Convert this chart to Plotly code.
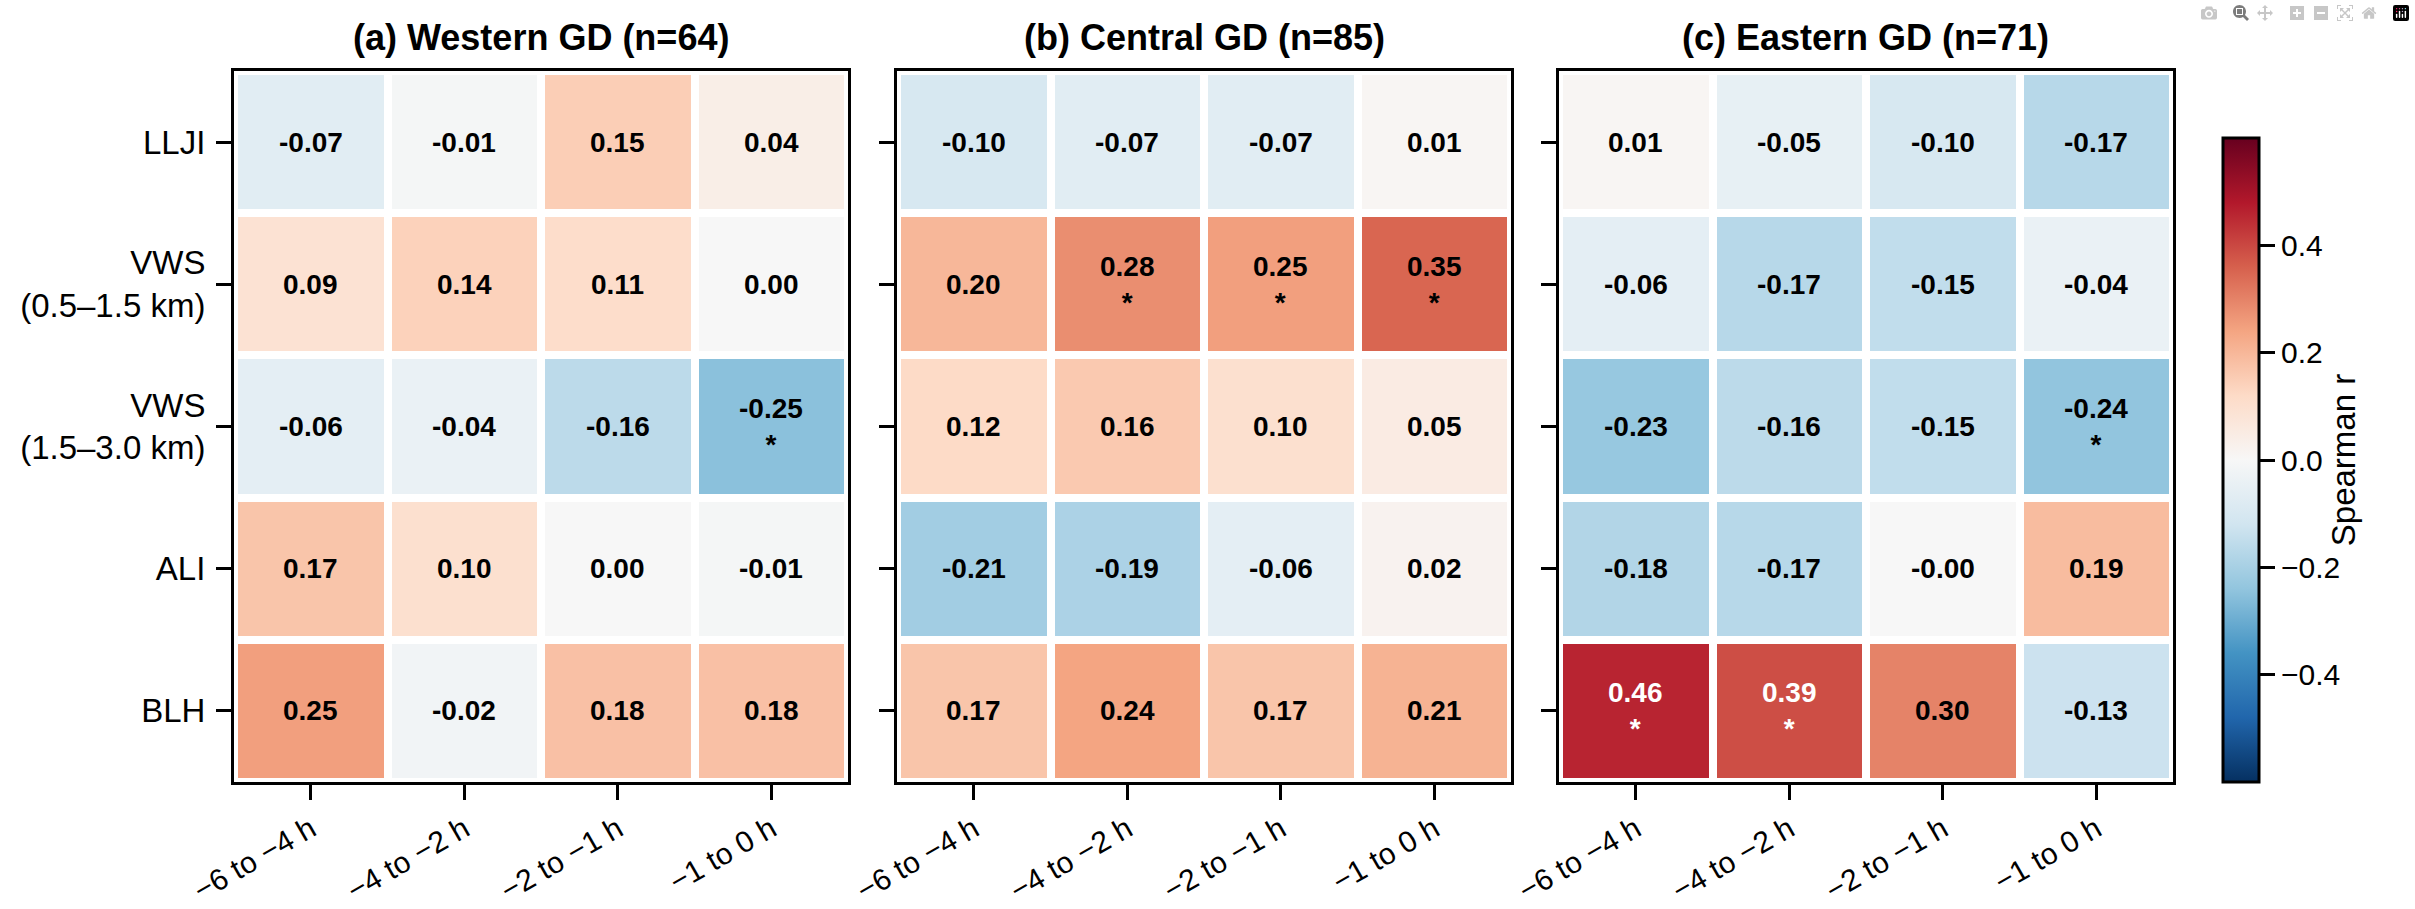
import plotly.graph_objects as go

# categories
time_bins = ["−6 to −4 h", "−4 to −2 h", "−2 to −1 h", "−1 to 0 h"]
variables = ["LLJI", "VWS<br>(0.5–1.5 km)", "VWS<br>(1.5–3.0 km)", "ALI", "BLH"]
panel_titles = ["(a) Western GD (n=64)", "(b) Central GD (n=85)", "(c) Eastern GD (n=71)"]

# Spearman r, rows = variables, cols = time bins
r_western = [[-0.07, -0.01, 0.15, 0.04],
             [0.09, 0.14, 0.11, 0.00],
             [-0.06, -0.04, -0.16, -0.25],
             [0.17, 0.10, 0.00, -0.01],
             [0.25, -0.02, 0.18, 0.18]]
r_central = [[-0.10, -0.07, -0.07, 0.01],
             [0.20, 0.28, 0.25, 0.35],
             [0.12, 0.16, 0.10, 0.05],
             [-0.21, -0.19, -0.06, 0.02],
             [0.17, 0.24, 0.17, 0.21]]
r_eastern = [[0.01, -0.05, -0.10, -0.17],
             [-0.06, -0.17, -0.15, -0.04],
             [-0.23, -0.16, -0.15, -0.24],
             [-0.18, -0.17, -0.0, 0.19],
             [0.46, 0.39, 0.30, -0.13]]

# significance flags (p < 0.05)
sig_western = [[0, 0, 0, 0], [0, 0, 0, 0], [0, 0, 0, 1], [0, 0, 0, 0], [0, 0, 0, 0]]
sig_central = [[0, 0, 0, 0], [0, 1, 1, 1], [0, 0, 0, 0], [0, 0, 0, 0], [0, 0, 0, 0]]
sig_eastern = [[0, 0, 0, 0], [0, 0, 0, 0], [0, 0, 0, 1], [0, 0, 0, 0], [1, 1, 0, 0]]

panels = [(r_western, sig_western), (r_central, sig_central), (r_eastern, sig_eastern)]

# matplotlib RdBu_r
rdbu_r = ['#053061', '#2166ac', '#4393c3', '#92c5de', '#d1e5f0', '#f7f7f7',
          '#fddbc7', '#f4a582', '#d6604d', '#b2182b', '#67001f']
colorscale = [[i / (len(rdbu_r) - 1), c] for i, c in enumerate(rdbu_r)]
vlim = 0.6

W, H = 2415, 909
x_domains = [[234 / W, 848 / W], [897 / W, 1511 / W], [1559 / W, 2173 / W]]
y_domain = [1 - 782 / H, 1 - 71 / H]
FONT = "Liberation Sans"

fig = go.Figure()
annotations = []

for k, (r, sig) in enumerate(panels):
    sfx = "" if k == 0 else str(k + 1)
    fig.add_trace(go.Heatmap(
        z=r, x=time_bins, y=variables,
        coloraxis="coloraxis", xgap=8, ygap=8,
        xaxis="x" + sfx, yaxis="y" + sfx,
        hovertemplate="%{y}<br>%{x}: %{z:.2f}<extra></extra>",
    ))
    for i, var in enumerate(variables):
        for j, tb in enumerate(time_bins):
            v = r[i][j]
            txt = f"{v:.2f}" + ("<br>*" if sig[i][j] else "")
            annotations.append(dict(
                x=tb, y=var, xref="x" + sfx, yref="y" + sfx,
                text=txt, showarrow=False,
                font=dict(family=FONT, size=28, weight="bold",
                          color="white" if abs(v) > 0.36 else "black"),
            ))
    annotations.append(dict(
        x=sum(x_domains[k]) / 2, y=1 - 38 / H, xref="paper", yref="paper",
        text=panel_titles[k], showarrow=False, xanchor="center", yanchor="middle",
        font=dict(family=FONT, size=36, weight="bold", color="black"),
    ))

    axis_common = dict(showline=True, linewidth=3, linecolor="black", mirror=True,
                       ticks="outside", ticklen=15, tickwidth=3, tickcolor="black",
                       showgrid=False, zeroline=False, automargin=False)
    fig.update_layout({
        "xaxis" + sfx: dict(axis_common, domain=x_domains[k], anchor="y" + sfx,
                            tickangle=-30, tickfont=dict(family=FONT, size=30, color="black")),
        "yaxis" + sfx: dict(axis_common, domain=y_domain, anchor="x" + sfx,
                            autorange="reversed", showticklabels=(k == 0),
                            ticklabelstandoff=4,
                            tickfont=dict(family=FONT, size=33, color="black")),
    })

fig.update_layout(
    width=W, height=H,
    margin=dict(l=0, r=0, t=0, b=0, autoexpand=False),
    paper_bgcolor="white", plot_bgcolor="white",
    font=dict(family=FONT, color="black"),
    annotations=annotations,
    coloraxis=dict(
        colorscale=colorscale, cmin=-vlim, cmax=vlim,
        colorbar=dict(
            x=2223 / W, xanchor="left", xpad=0,
            y=1 - 782 / H, yanchor="bottom", ypad=0,
            len=644, lenmode="pixels", thickness=36,
            outlinewidth=3, outlinecolor="black",
            ticks="outside", ticklen=15, tickwidth=3, tickcolor="black",
            tickvals=[-0.4, -0.2, 0.0, 0.2, 0.4], tickformat=".1f",
            tickfont=dict(family=FONT, size=30, color="black"),
            title=dict(text="Spearman r", side="right",
                       font=dict(family=FONT, size=33, color="black")),
        ),
    ),
)

fig.write_html("out.html", post_script="document.body.style.margin='0';")
